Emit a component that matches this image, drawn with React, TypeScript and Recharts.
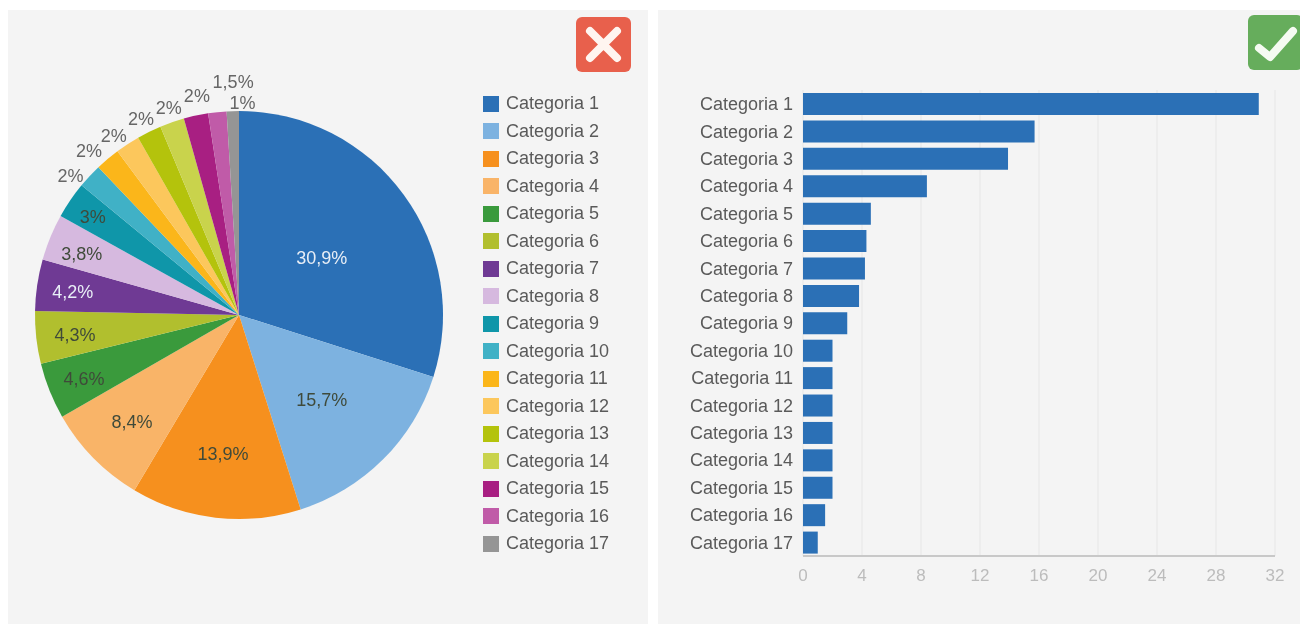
import { PieChart, Pie, BarChart, Bar, XAxis, YAxis, CartesianGrid, Legend } from 'recharts'

const categories = [
  'Categoria 1', 'Categoria 2', 'Categoria 3', 'Categoria 4', 'Categoria 5', 'Categoria 6',
  'Categoria 7', 'Categoria 8', 'Categoria 9', 'Categoria 10', 'Categoria 11', 'Categoria 12',
  'Categoria 13', 'Categoria 14', 'Categoria 15', 'Categoria 16', 'Categoria 17',
]
const values = [30.9, 15.7, 13.9, 8.4, 4.6, 4.3, 4.2, 3.8, 3, 2, 2, 2, 2, 2, 2, 1.5, 1]
const colors = [
  '#2b70b6', '#7db2e0', '#f6901e', '#f9b468', '#3a9a3c', '#b1bf2e', '#6f3a94', '#d6b9df', '#0f96a9',
  '#40b1c6', '#fbb61a', '#fcc75c', '#b4c30c', '#c9d34c', '#a81f82', '#c05ba8', '#959595',
]
const xTicks = [0, 4, 8, 12, 16, 20, 24, 28, 32]

const pieData = categories.map((name, i) => ({ name, value: values[i], fill: colors[i] }))
const barData = categories.map((name, i) => ({ name, value: values[i] }))

const FONT = '"Liberation Sans", Arial, sans-serif'

// distance from the centre of the pie for the labels, then a nudge for the crowded outside ones
const labelRadius = [100, 117, 138, 150, 167, 165, 168, 170, 177, 218, 222, 220, 220, 220, 223, 234, 213]
const labelDx = [2, 0, 0, 0, 0, 0, 0, 0, 0, -9, -7, -5, -1, 2, 5, 19, 10]
const labelDy = [0, 0, 0, 0, 0, 0, 0, 2, 0, 8, 4, 3, 0, -1, -3, -2, -1]
const darkLabels = [1, 2, 3, 4, 5, 7, 8]

function PieLabel(props: any) {
  const { cx, cy, midAngle, index, value } = props
  const rad = (midAngle * Math.PI) / 180
  const x = cx + labelRadius[index] * Math.cos(rad) + labelDx[index]
  const y = cy - labelRadius[index] * Math.sin(rad) + labelDy[index] + 2
  const fill = index === 0 || index === 6 ? '#e8eef6' : darkLabels.includes(index) ? '#3f4a3a' : '#666'
  return (
    <text x={x} y={y} fill={fill} fontSize={18} fontFamily={FONT} textAnchor="middle" dominantBaseline="central">
      {String(value).replace('.', ',')}%
    </text>
  )
}

function PieLegend({ payload }: any) {
  return (
    <div>
      {(payload ?? []).map((item: any) => (
        <div key={item.value} style={{ height: 27.5, display: 'flex', alignItems: 'center', fontFamily: FONT, fontSize: 18, color: '#5a5a5a' }}>
          <span style={{ width: 16, height: 16, background: item.color, marginRight: 7 }} />
          {item.value}
        </div>
      ))}
    </div>
  )
}

export default function App() {
  return (
    <div style={{ position: 'fixed', left: 0, top: 0, width: 1300, height: 624, background: '#fff', overflow: 'hidden', filter: 'blur(0.7px)' }}>
      <div style={{ position: 'absolute', left: 8, top: 10, width: 640, height: 614, background: '#f4f4f4' }}>
        <PieChart width={640} height={614} margin={{ top: 0, right: 0, bottom: 0, left: 0 }}>
          <Pie
            data={pieData}
            dataKey="value"
            nameKey="name"
            cx={231}
            cy={305}
            outerRadius={204}
            startAngle={90}
            endAngle={-270}
            stroke="none"
            label={PieLabel}
            labelLine={false}
            isAnimationActive={false}
          />
          <Legend
            layout="vertical"
            itemSorter={null}
            content={<PieLegend />}
            wrapperStyle={{ left: 475, top: 80, width: 160, bottom: 'auto' }}
          />
        </PieChart>
      </div>
      <div style={{ position: 'absolute', left: 658, top: 10, width: 642, height: 614, background: '#f4f4f4' }}>
        <BarChart
          width={642}
          height={614}
          layout="vertical"
          data={barData}
          margin={{ top: 80, right: 25, bottom: 0, left: 0 }}
        >
          <CartesianGrid horizontal={false} stroke="#e6e6e6" />
          <XAxis
            type="number"
            domain={[0, 32]}
            ticks={xTicks}
            height={68}
            tickLine={false}
            axisLine={{ stroke: '#c8c8c8', strokeWidth: 2 }}
            tick={{ fontSize: 17, fill: '#bcbcbc', fontFamily: FONT }}
            tickMargin={7}
          />
          <YAxis
            type="category"
            dataKey="name"
            width={145}
            interval={0}
            tickLine={false}
            axisLine={false}
            tick={{ fontSize: 18, fill: '#5a5a5a', fontFamily: FONT }}
            tickMargin={4}
          />
          <Bar dataKey="value" fill="#2b70b6" barSize={22} isAnimationActive={false} />
        </BarChart>
      </div>
      <svg style={{ position: 'absolute', left: 576, top: 17 }} width={55} height={55}>
        <rect width={55} height={55} rx={6} fill="#e8604c" />
        <path d="M14 14 L41 41 M41 14 L14 41" stroke="#fff5f0" strokeWidth={8} strokeLinecap="round" />
      </svg>
      <svg style={{ position: 'absolute', left: 1248, top: 15 }} width={55} height={55}>
        <rect width={55} height={55} rx={6} fill="#66ad5c" />
        <path d="M11 33 L22 42 L45 16" stroke="#f5fbf2" strokeWidth={8} strokeLinecap="round" strokeLinejoin="round" fill="none" />
      </svg>
    </div>
  )
}
